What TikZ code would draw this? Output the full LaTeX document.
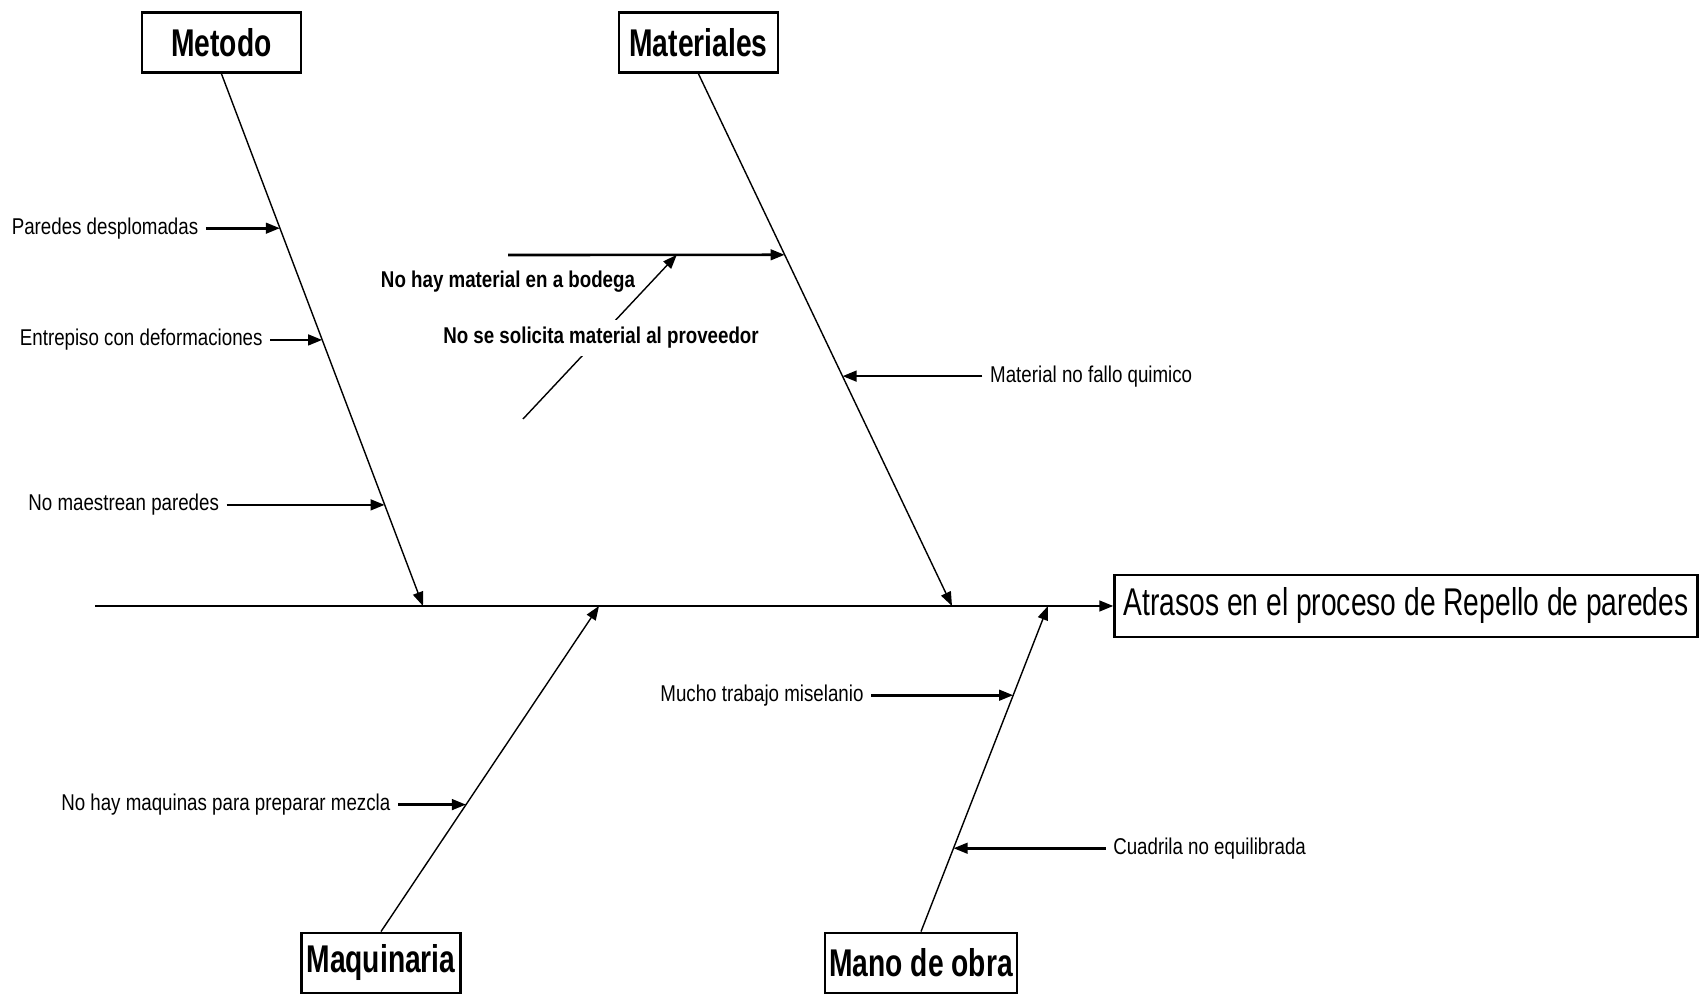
\documentclass[tikz,border=0pt]{standalone}
\usepackage{fontspec}
\setmainfont{Liberation Sans}
\newfontfamily\causefont{Liberation Sans}[FakeStretch=0.82]
\newfontfamily\boxfont{Liberation Sans}[FakeStretch=0.73]
\usetikzlibrary{positioning,arrows.meta}

\begin{document}
\begin{tikzpicture}[
  cat/.style={draw, line width=0.8pt, minimum width=1.59cm, minimum height=0.6cm,
              inner xsep=1.2pt, font=\boxfont\fontsize{11}{13}\selectfont\bfseries},
  effect/.style={draw, line width=0.8pt, minimum height=0.62cm, inner xsep=2.5pt,
                 font=\boxfont\fontsize{11}{13}\selectfont},
  cause/.style={font=\causefont\fontsize{6.5}{8}\selectfont, inner sep=2pt},
  subcause/.style={cause, font=\causefont\fontsize{6.5}{8}\selectfont\bfseries},
  bone/.style={-{Triangle[length=4pt,width=3pt]}, line width=0.4pt},
  arr/.style={-{Triangle[length=4pt,width=3pt]}, line width=0.75pt},
  spine/.style={-{Triangle[length=4pt,width=3pt]}, line width=0.75pt}
]
  \useasboundingbox (0,0) rectangle (17.08,9.96);

  % Category boxes and the effect
  \node[cat] (metodo) at (2.215,9.535) {Metodo};
  \node[cat] (materiales) at (6.985,9.535) {Materiales};
  \node[cat] (maquinaria) at (3.81,0.33) {Maquinaria};
  \node[cat] (manoobra) at (9.21,0.33) {Mano de obra};
  \node[effect] (efecto) at (14.06,3.90) {Atrasos en el proceso de Repello de paredes};

  % Spine and the points where the bones meet it
  \coordinate (cola) at (0.95,3.90);
  \coordinate (mh) at (4.23,3.90);
  \coordinate (mah) at (9.52,3.90);
  \coordinate (qh) at (5.99,3.90);
  \coordinate (oh) at (10.48,3.90);
  \draw[spine] (cola) -- (efecto);

  % Metodo
  \draw[bone] (metodo.south) -- (mh)
    coordinate[pos=.29] (m1) coordinate[pos=.50] (m2) coordinate[pos=.81] (m3);
  \node[cause, left=0.74cm of m1] (c1) {Paredes desplomadas};
  \draw[arr] (c1) -- (m1);
  \node[cause, left=0.52cm of m2] (c2) {Entrepiso con deformaciones};
  \draw[arr] (c2) -- (m2);
  \node[cause, left=1.58cm of m3] (c3) {No maestrean paredes};
  \draw[arr] (c3) -- (m3);

  % Materiales
  \draw[bone] (materiales.south) -- (mah)
    coordinate[pos=.34] (ma1) coordinate[pos=.568] (ma2);
  \node[cause, right=1.40cm of ma2] (c4) {Material no fallo quimico};
  \draw[arr] (c4) -- (ma2);

  \coordinate (s0) at (5.08,7.41);
  \draw[arr] (s0) -- (ma1) coordinate[pos=.61] (s1);
  \node[subcause] (c5) at (5.08,7.14) {No hay material en a bodega};
  \coordinate (s2) at (5.23,5.77);
  \draw[bone] (s2) -- (s1);
  \node[subcause, fill=white] (c6) at (6.01,6.58) {No se solicita material al proveedor};

  % Maquinaria
  \draw[bone] (maquinaria.north) -- (qh) coordinate[pos=.39] (q1);
  \node[cause, left=0.68cm of q1] (c7) {No hay maquinas para preparar mezcla};
  \draw[arr] (c7) -- (q1);

  % Mano de obra
  \draw[bone] (manoobra.north) -- (oh)
    coordinate[pos=.726] (o1) coordinate[pos=.256] (o2);
  \node[cause, left=1.42cm of o1] (c8) {Mucho trabajo miselanio};
  \draw[arr] (c8) -- (o1);
  \node[cause, right=1.52cm of o2] (c9) {Cuadrila no equilibrada};
  \draw[arr] (c9) -- (o2);
\end{tikzpicture}
\end{document}
